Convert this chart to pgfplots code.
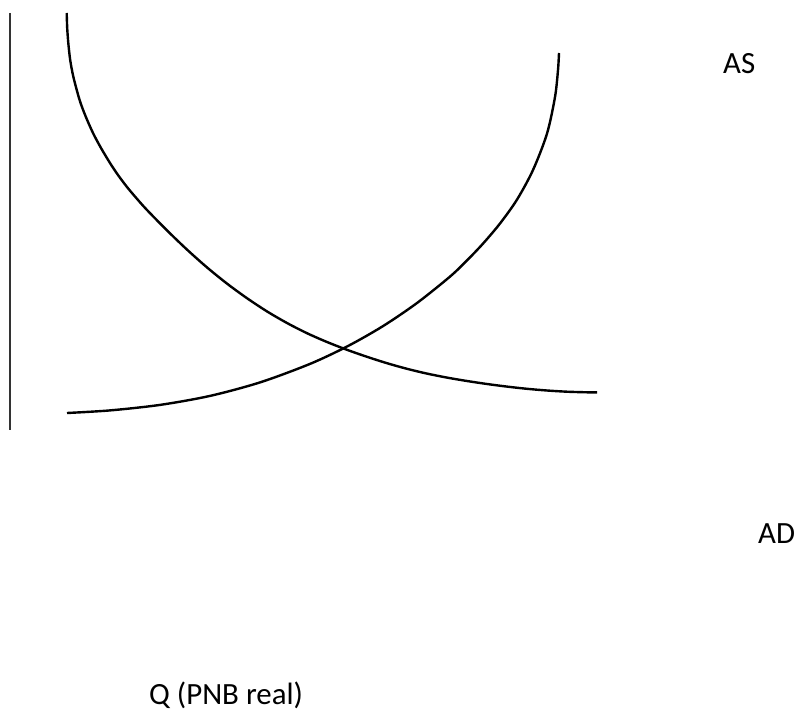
\documentclass[border=0pt]{standalone}
\usepackage{pgfplots}
\pgfplotsset{compat=1.18}
\usepackage{fontspec}
\setmainfont{Carlito}
\begin{document}
\begin{tikzpicture}
\begin{axis}[
  width=796bp, height=713bp, scale only axis,
  xmin=0, xmax=796, ymin=0, ymax=713, y dir=reverse,
  hide axis, clip=false,
]
\path (axis cs:0,0) rectangle (axis cs:796,713);
% vertical axis line
\addplot[black!80, line width=1.6bp] coordinates {(10,13) (10,430)};
% AD curve
\addplot[black, line width=2.4bp, smooth, tension=0.5] coordinates {
(66.7,13) (67.2,28) (68.3,43) (70.2,60) (73.4,77) (79.6,100) (85.5,116) (93,133)
(101,148) (110,163) (118,175) (127,187) (136.7,198.5)
(147,210) (167,230.4) (187,249.6) (207,267.4) (227,283.6) (247,298.2) (267,311.4)
(287,323.0) (307,333.2) (327,342.0) (347,349.8) (367,356.8) (387,363.2) (407,368.8)
(427,373.6) (447,377.6) (467,381.0) (487,384.0) (507,386.6) (527,388.8) (547,390.5)
(567,391.7) (587,392.3) (597,392.4)};
% AS curve
\addplot[black, line width=2.4bp, smooth, tension=0.5] coordinates {
(67,413) (110,410.4) (160,404.9) (210,395.9) (260,382.4) (310,363.9) (348,346.0)
(383,326.1) (417,303.0) (450,276.6) (467,260.4) (483,243.6) (500,223.5) (517,199.6) (533,170)
(547,133.6) (555,97) (558,70) (559,53)};
\node[anchor=base west, inner sep=0pt, font=\fontsize{31}{36}\selectfont] at (axis cs:723,74) {AS};
\node[anchor=base west, inner sep=0pt, font=\fontsize{31}{36}\selectfont] at (axis cs:758,543) {AD};
\node[anchor=base west, inner sep=0pt, font=\fontsize{31}{36}\selectfont] at (axis cs:149,704) {Q (PNB real)};
\end{axis}
\end{tikzpicture}
\end{document}
